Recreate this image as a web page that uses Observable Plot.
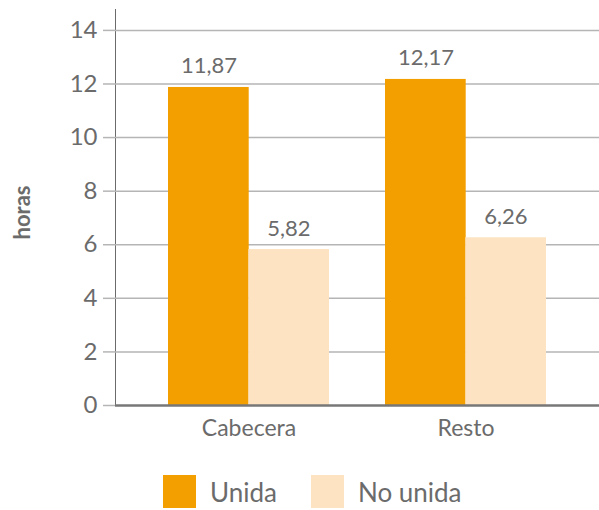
<!DOCTYPE html>
<html>
<head>
<meta charset="utf-8">
<script src="https://cdn.jsdelivr.net/npm/d3@7"></script>
<script src="https://cdn.jsdelivr.net/npm/@observablehq/plot@0.6"></script>
<style>
  body { margin: 0; background: #fff; font-family: Lato, "Noto Sans", sans-serif; }
  #chart svg [aria-label^="x-axis"] text { font-size: 23px; }
  #chart svg [aria-label^="y-axis"] text { font-size: 24px; }
  #chart svg [aria-label^="y-axis"] line, #chart svg [aria-label="y-axis tick"] path { stroke: #b5b5b5; stroke-width: 1.5; }
  #chart svg [aria-label^="y-axis"] path.domain { stroke: #777; stroke-width: 1.5; }
  .legend { display: flex; align-items: center; margin-top: 15px; padding-left: 163px; color: #6b6b6b; font-size: 26px; }
  .legend .item { display: flex; align-items: center; margin-right: 34px; }
  .legend .sw { width: 33px; height: 33px; margin-right: 14px; }
</style>
</head>
<body>
<div id="chart"></div>
<script>
const categories = ["Cabecera", "Resto"];
const series = ["Unida", "No unida"];
const unida = [11.87, 12.17];
const noUnida = [5.82, 6.26];
const yTicks = [0, 2, 4, 6, 8, 10, 12, 14];
const colors = ["#F49F00", "#FDE3C1"];

const data = categories.flatMap((c, i) => [
  {category: c, serie: series[0], value: unida[i]},
  {category: c, serie: series[1], value: noUnida[i]}
]);
const fmt = d => d.value.toFixed(2).replace(".", ",");
const dU = data.filter(d => d.serie === series[0]);
const dN = data.filter(d => d.serie === series[1]);

const chart = Plot.plot({
  width: 599,
  height: 460,
  marginLeft: 115,
  marginRight: 0,
  marginTop: 9,
  marginBottom: 55,
  style: {fontFamily: "Lato, 'Noto Sans', sans-serif", fontSize: "22px", color: "#6b6b6b", background: "white", overflow: "visible"},
  x: {domain: categories, paddingInner: 0.26, paddingOuter: 0.245, label: null, tickSize: 0, tickPadding: 14},
  y: {domain: [0, 14.78], ticks: yTicks, tickSize: 12, tickPadding: 6, label: null, line: true},
  color: {domain: series, range: colors},
  marks: [
    Plot.ruleY(yTicks.slice(1), {stroke: "#b5b5b5", strokeWidth: 1.5}),
    Plot.barY(dU, {x: "category", y: "value", fill: "serie", insetRight: 80.3}),
    Plot.barY(dN, {x: "category", y: "value", fill: "serie", insetLeft: 80.3}),
    Plot.ruleY([0], {stroke: "#777", strokeWidth: 2.5}),
    Plot.text(dU, {x: "category", y: "value", text: fmt, dx: -40, dy: -14, lineAnchor: "bottom", fill: "#6b6b6b", fontSize: 22}),
    Plot.text(dN, {x: "category", y: "value", text: fmt, dx: 40, dy: -14, lineAnchor: "bottom", fill: "#6b6b6b", fontSize: 22}),
    Plot.text(["horas"], {frameAnchor: "left", textAnchor: "middle", rotate: -90, dx: -93, dy: 5, fontWeight: "bold", fontSize: 22, fill: "#6b6b6b"})
  ]
});
document.getElementById("chart").appendChild(chart);

const legend = document.createElement("div");
legend.className = "legend";
series.forEach((s, i) => {
  const item = document.createElement("div");
  item.className = "item";
  const sw = document.createElement("div");
  sw.className = "sw";
  sw.style.background = colors[i];
  const t = document.createElement("span");
  t.textContent = s;
  item.appendChild(sw);
  item.appendChild(t);
  legend.appendChild(item);
});
document.getElementById("chart").appendChild(legend);
</script>
</body>
</html>
